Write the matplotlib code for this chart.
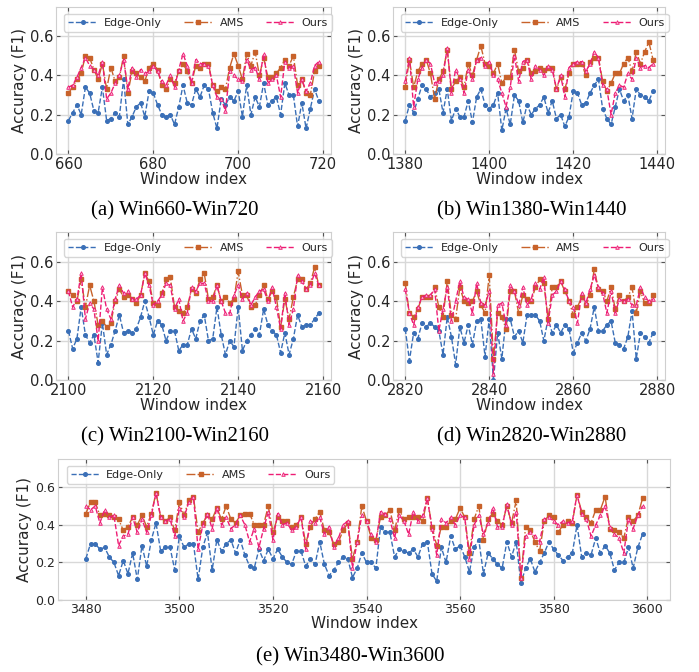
import numpy as np
import matplotlib
matplotlib.use("Agg")
import matplotlib.pyplot as plt
from matplotlib.ticker import MultipleLocator

# window ranges of the five panels
starts = [660, 1380, 2100, 2820, 3480]
captions = ["(a) Win660-Win720", "(b) Win1380-Win1440", "(c) Win2100-Win2160",
            "(d) Win2820-Win2880", "(e) Win3480-Win3600"]

# (a) 660-719
edge_a = [0.17, 0.21, 0.25, 0.20, 0.34, 0.31, 0.22, 0.21, 0.34, 0.17, 0.18, 0.21, 0.19, 0.38, 0.15,
          0.19, 0.24, 0.26, 0.19, 0.32, 0.31, 0.25, 0.20, 0.19, 0.20, 0.15, 0.24, 0.35, 0.26, 0.25,
          0.33, 0.29, 0.35, 0.33, 0.21, 0.13, 0.28, 0.25, 0.29, 0.27, 0.32, 0.19, 0.35, 0.20, 0.29,
          0.24, 0.36, 0.25, 0.27, 0.29, 0.20, 0.36, 0.30, 0.30, 0.14, 0.26, 0.13, 0.23, 0.33, 0.27]
ams_a = [0.31, 0.34, 0.38, 0.41, 0.50, 0.49, 0.43, 0.38, 0.46, 0.33, 0.44, 0.37, 0.39, 0.50, 0.31,
         0.42, 0.41, 0.39, 0.37, 0.44, 0.46, 0.43, 0.35, 0.33, 0.38, 0.36, 0.42, 0.46, 0.42, 0.36,
         0.45, 0.44, 0.46, 0.46, 0.35, 0.32, 0.34, 0.33, 0.44, 0.51, 0.45, 0.38, 0.51, 0.45, 0.52,
         0.40, 0.49, 0.39, 0.39, 0.41, 0.44, 0.48, 0.45, 0.50, 0.35, 0.38, 0.31, 0.30, 0.42, 0.45]
ours_a = [0.34, 0.35, 0.39, 0.44, 0.49, 0.45, 0.43, 0.40, 0.47, 0.28, 0.31, 0.36, 0.40, 0.48, 0.33,
          0.44, 0.39, 0.43, 0.41, 0.42, 0.45, 0.42, 0.37, 0.35, 0.40, 0.34, 0.43, 0.51, 0.45, 0.36,
          0.48, 0.46, 0.46, 0.45, 0.35, 0.29, 0.28, 0.22, 0.42, 0.40, 0.38, 0.37, 0.48, 0.43, 0.44,
          0.38, 0.51, 0.36, 0.38, 0.40, 0.29, 0.47, 0.44, 0.45, 0.31, 0.38, 0.32, 0.36, 0.45, 0.47]

# (b) 1380-1439
edge_b = [0.17, 0.25, 0.21, 0.28, 0.35, 0.33, 0.29, 0.31, 0.33, 0.21, 0.33, 0.17, 0.23, 0.19, 0.19,
          0.27, 0.16, 0.29, 0.33, 0.25, 0.23, 0.25, 0.31, 0.12, 0.23, 0.15, 0.30, 0.27, 0.16, 0.25,
          0.20, 0.23, 0.25, 0.29, 0.21, 0.27, 0.18, 0.20, 0.14, 0.19, 0.32, 0.31, 0.25, 0.26, 0.31,
          0.35, 0.38, 0.23, 0.18, 0.15, 0.24, 0.33, 0.27, 0.30, 0.18, 0.33, 0.30, 0.29, 0.27, 0.32]
ams_b = [0.34, 0.48, 0.34, 0.42, 0.46, 0.48, 0.41, 0.28, 0.38, 0.42, 0.53, 0.33, 0.37, 0.39, 0.34,
         0.46, 0.40, 0.48, 0.55, 0.46, 0.45, 0.41, 0.46, 0.36, 0.39, 0.39, 0.53, 0.42, 0.44, 0.48,
         0.41, 0.42, 0.44, 0.43, 0.44, 0.44, 0.33, 0.39, 0.33, 0.41, 0.46, 0.46, 0.46, 0.40, 0.47,
         0.49, 0.49, 0.37, 0.32, 0.36, 0.41, 0.41, 0.46, 0.49, 0.42, 0.52, 0.46, 0.52, 0.57, 0.48]
ours_b = [0.37, 0.49, 0.24, 0.38, 0.44, 0.48, 0.46, 0.36, 0.37, 0.40, 0.54, 0.31, 0.43, 0.38, 0.31,
          0.43, 0.38, 0.48, 0.49, 0.45, 0.47, 0.40, 0.38, 0.31, 0.24, 0.34, 0.50, 0.37, 0.47, 0.48,
          0.38, 0.45, 0.43, 0.40, 0.45, 0.43, 0.33, 0.40, 0.29, 0.44, 0.46, 0.47, 0.47, 0.42, 0.46,
          0.52, 0.49, 0.35, 0.33, 0.20, 0.31, 0.35, 0.34, 0.41, 0.38, 0.49, 0.44, 0.45, 0.44, 0.46]

# (c) 2100-2159
edge_c = [0.25, 0.16, 0.21, 0.37, 0.23, 0.19, 0.23, 0.09, 0.29, 0.13, 0.18, 0.25, 0.33, 0.24, 0.25,
          0.24, 0.26, 0.32, 0.40, 0.32, 0.23, 0.30, 0.28, 0.20, 0.25, 0.25, 0.15, 0.18, 0.18, 0.26,
          0.21, 0.30, 0.33, 0.20, 0.21, 0.37, 0.23, 0.13, 0.20, 0.17, 0.37, 0.15, 0.20, 0.23, 0.26,
          0.23, 0.36, 0.28, 0.25, 0.23, 0.14, 0.24, 0.13, 0.21, 0.33, 0.27, 0.28, 0.28, 0.31, 0.34]
ams_c = [0.45, 0.43, 0.40, 0.51, 0.37, 0.48, 0.40, 0.28, 0.30, 0.27, 0.29, 0.40, 0.46, 0.42, 0.43,
         0.41, 0.39, 0.43, 0.54, 0.50, 0.39, 0.38, 0.44, 0.51, 0.52, 0.37, 0.35, 0.34, 0.37, 0.46,
         0.44, 0.51, 0.54, 0.41, 0.42, 0.48, 0.40, 0.42, 0.39, 0.41, 0.55, 0.43, 0.43, 0.37, 0.38,
         0.43, 0.48, 0.41, 0.45, 0.42, 0.27, 0.41, 0.31, 0.42, 0.51, 0.51, 0.46, 0.49, 0.57, 0.48]
ours_c = [0.45, 0.37, 0.41, 0.54, 0.31, 0.39, 0.36, 0.20, 0.47, 0.36, 0.31, 0.41, 0.48, 0.44, 0.45,
          0.41, 0.41, 0.43, 0.54, 0.48, 0.38, 0.40, 0.43, 0.49, 0.48, 0.36, 0.41, 0.30, 0.34, 0.47,
          0.45, 0.49, 0.49, 0.40, 0.40, 0.48, 0.40, 0.34, 0.34, 0.43, 0.48, 0.41, 0.44, 0.38, 0.42,
          0.45, 0.46, 0.40, 0.47, 0.37, 0.26, 0.44, 0.28, 0.36, 0.53, 0.50, 0.46, 0.48, 0.54, 0.48]

# (d) 2820-2879
edge_d = [0.26, 0.10, 0.24, 0.21, 0.29, 0.27, 0.29, 0.27, 0.25, 0.13, 0.32, 0.22, 0.08, 0.27, 0.19,
          0.28, 0.18, 0.30, 0.31, 0.12, 0.31, 0.00, 0.24, 0.11, 0.31, 0.31, 0.22, 0.25, 0.19, 0.33,
          0.33, 0.33, 0.30, 0.20, 0.31, 0.24, 0.28, 0.24, 0.28, 0.26, 0.14, 0.19, 0.24, 0.20, 0.26,
          0.37, 0.25, 0.25, 0.28, 0.30, 0.19, 0.18, 0.16, 0.22, 0.35, 0.11, 0.24, 0.22, 0.19, 0.24]
ams_d = [0.49, 0.34, 0.32, 0.36, 0.42, 0.42, 0.42, 0.47, 0.37, 0.32, 0.50, 0.33, 0.31, 0.47, 0.40,
         0.39, 0.40, 0.45, 0.38, 0.34, 0.53, 0.11, 0.34, 0.32, 0.26, 0.45, 0.45, 0.34, 0.43, 0.41,
         0.40, 0.47, 0.51, 0.49, 0.31, 0.47, 0.47, 0.50, 0.45, 0.40, 0.33, 0.37, 0.42, 0.38, 0.43,
         0.56, 0.46, 0.45, 0.40, 0.47, 0.36, 0.43, 0.40, 0.42, 0.47, 0.34, 0.45, 0.39, 0.39, 0.43]
ours_d = [0.46, 0.34, 0.28, 0.37, 0.42, 0.43, 0.43, 0.46, 0.25, 0.36, 0.47, 0.30, 0.40, 0.50, 0.42,
          0.41, 0.34, 0.49, 0.39, 0.38, 0.45, 0.03, 0.38, 0.39, 0.28, 0.48, 0.45, 0.38, 0.47, 0.38,
          0.41, 0.49, 0.46, 0.52, 0.29, 0.43, 0.45, 0.50, 0.46, 0.40, 0.37, 0.29, 0.44, 0.39, 0.46,
          0.53, 0.47, 0.44, 0.34, 0.45, 0.34, 0.41, 0.40, 0.41, 0.38, 0.38, 0.47, 0.42, 0.40, 0.41]

# (e) 3480-3599
edge_e = [0.22, 0.30, 0.30, 0.27, 0.28, 0.23, 0.20, 0.13, 0.21, 0.14, 0.25, 0.11, 0.29, 0.18, 0.32,
          0.41, 0.26, 0.28, 0.28, 0.16, 0.34, 0.28, 0.30, 0.30, 0.11, 0.28, 0.36, 0.16, 0.32, 0.26,
          0.30, 0.32, 0.25, 0.32, 0.24, 0.18, 0.17, 0.27, 0.21, 0.27, 0.22, 0.27, 0.23, 0.20, 0.19,
          0.26, 0.26, 0.18, 0.22, 0.19, 0.31, 0.19, 0.13, 0.16, 0.20, 0.23, 0.22, 0.12, 0.17, 0.25,
          0.20, 0.20, 0.17, 0.39, 0.36, 0.36, 0.23, 0.27, 0.26, 0.25, 0.27, 0.23, 0.30, 0.31, 0.14,
          0.10, 0.28, 0.20, 0.34, 0.27, 0.29, 0.23, 0.15, 0.28, 0.32, 0.14, 0.25, 0.22, 0.19, 0.17,
          0.31, 0.23, 0.31, 0.09, 0.17, 0.22, 0.15, 0.20, 0.25, 0.31, 0.27, 0.24, 0.21, 0.23, 0.25,
          0.40, 0.23, 0.25, 0.24, 0.33, 0.25, 0.29, 0.25, 0.16, 0.20, 0.20, 0.28, 0.17, 0.28, 0.35]
ams_e = [0.46, 0.52, 0.52, 0.45, 0.46, 0.45, 0.44, 0.43, 0.37, 0.39, 0.44, 0.40, 0.45, 0.39, 0.46,
         0.57, 0.44, 0.42, 0.44, 0.37, 0.52, 0.45, 0.53, 0.55, 0.36, 0.41, 0.45, 0.43, 0.49, 0.43,
         0.50, 0.43, 0.41, 0.45, 0.46, 0.46, 0.40, 0.40, 0.40, 0.50, 0.36, 0.44, 0.42, 0.42, 0.39,
         0.40, 0.44, 0.30, 0.39, 0.43, 0.47, 0.37, 0.36, 0.30, 0.31, 0.37, 0.41, 0.22, 0.31, 0.50,
         0.42, 0.33, 0.32, 0.44, 0.45, 0.48, 0.37, 0.48, 0.43, 0.44, 0.44, 0.44, 0.42, 0.54, 0.39,
         0.29, 0.39, 0.39, 0.42, 0.43, 0.49, 0.44, 0.25, 0.43, 0.50, 0.32, 0.43, 0.46, 0.42, 0.40,
         0.50, 0.41, 0.53, 0.12, 0.39, 0.37, 0.31, 0.26, 0.42, 0.45, 0.44, 0.36, 0.40, 0.42, 0.41,
         0.56, 0.47, 0.44, 0.41, 0.48, 0.48, 0.55, 0.38, 0.37, 0.36, 0.33, 0.44, 0.42, 0.45, 0.54]
ours_e = [0.50, 0.48, 0.50, 0.41, 0.48, 0.44, 0.45, 0.29, 0.34, 0.35, 0.44, 0.36, 0.43, 0.36, 0.45,
          0.57, 0.44, 0.42, 0.43, 0.34, 0.49, 0.44, 0.52, 0.55, 0.27, 0.40, 0.46, 0.38, 0.49, 0.40,
          0.44, 0.38, 0.40, 0.45, 0.40, 0.31, 0.38, 0.28, 0.38, 0.47, 0.32, 0.46, 0.40, 0.41, 0.37,
          0.39, 0.44, 0.27, 0.42, 0.41, 0.44, 0.35, 0.39, 0.28, 0.33, 0.40, 0.42, 0.17, 0.31, 0.45,
          0.42, 0.35, 0.31, 0.47, 0.46, 0.43, 0.33, 0.45, 0.42, 0.35, 0.47, 0.42, 0.45, 0.54, 0.38,
          0.24, 0.43, 0.41, 0.44, 0.40, 0.45, 0.44, 0.22, 0.40, 0.45, 0.35, 0.41, 0.49, 0.39, 0.39,
          0.51, 0.40, 0.47, 0.12, 0.34, 0.36, 0.34, 0.31, 0.43, 0.44, 0.42, 0.40, 0.42, 0.41, 0.42,
          0.56, 0.46, 0.43, 0.34, 0.40, 0.45, 0.50, 0.39, 0.35, 0.33, 0.25, 0.43, 0.38, 0.45, 0.50]

edge = [edge_a, edge_b, edge_c, edge_d, edge_e]
ams = [ams_a, ams_b, ams_c, ams_d, ams_e]
ours = [ours_a, ours_b, ours_c, ours_d, ours_e]

blue = "#3a6fb7"
orange = "#c8622a"
pink = "#ee1c74"

plt.rcParams["font.family"] = "DejaVu Sans"
plt.rcParams["text.color"] = "#262626"
plt.rcParams["axes.labelcolor"] = "#262626"
plt.rcParams["xtick.labelcolor"] = "#262626"
plt.rcParams["ytick.labelcolor"] = "#262626"

fig = plt.figure(figsize=(6.99, 6.72), dpi=100)

# axes boxes in figure fractions [left, bottom, width, height]
boxes = [[0.080, 0.771, 0.394, 0.219],
         [0.562, 0.771, 0.390, 0.219],
         [0.080, 0.434, 0.394, 0.221],
         [0.562, 0.434, 0.390, 0.221],
         [0.083, 0.107, 0.876, 0.210]]
cap_pos = [(0.250, 0.686), (0.761, 0.686), (0.250, 0.350), (0.761, 0.350), (0.501, 0.022)]

for i in range(5):
    ax = fig.add_axes(boxes[i])
    x = np.arange(starts[i], starts[i] + len(edge[i]))
    ax.plot(x, edge[i], ls="--", color=blue, lw=1.0, marker="o", ms=2.6,
            mec=blue, label="Edge-Only")
    ax.plot(x, ams[i], ls="-.", color=orange, lw=1.0, marker="s", ms=2.6,
            mec=orange, label="AMS")
    ax.plot(x, ours[i], ls="--", color=pink, lw=1.0, marker="^", ms=2.6,
            mfc="#f7b6d2", mec=pink, mew=0.6, label="Ours")

    ax.set_ylim(0, 0.75)
    ax.yaxis.set_major_locator(MultipleLocator(0.2))
    ax.xaxis.set_major_locator(MultipleLocator(20))
    ax.grid(True, color="#d8d8d8", lw=1.0)
    ax.set_axisbelow(True)
    for s in ax.spines.values():
        s.set_color("#cfcfcf")
    tsize = 9 if i == 4 else 10.5
    ax.tick_params(direction="in", right=True, top=True, length=3, color="#555555",
                   labelsize=tsize, pad=2)
    ax.set_xlabel("Window index", fontsize=11, labelpad=0)
    ax.set_ylabel("Accuracy (F1)", fontsize=11, labelpad=2)
    ax.legend(loc="upper left", bbox_to_anchor=(0.01, 0.99) if i < 4 else (0.005, 0.99),
              ncol=3, fontsize=8, handlelength=2.6, columnspacing=2.0,
              handletextpad=0.6, borderpad=0.35, frameon=True, edgecolor="#cccccc")

    fig.text(cap_pos[i][0], cap_pos[i][1], captions[i], ha="center", va="center",
             fontsize=15, family="Liberation Serif", color="black")

fig.savefig("out.png", dpi=100)
